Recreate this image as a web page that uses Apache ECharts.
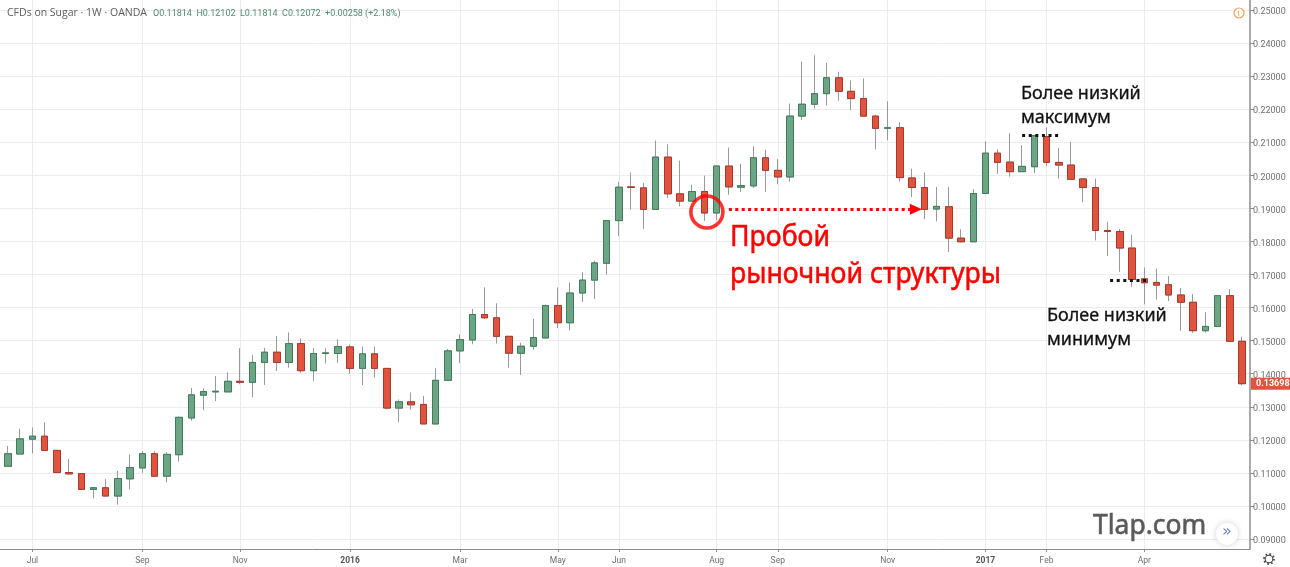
<!DOCTYPE html>
<html>
<head>
<meta charset="utf-8">
<style>html,body{margin:0;padding:0;background:#fff}#chart{width:1290px;height:567px}</style>
<script src="https://cdn.jsdelivr.net/npm/echarts@6/dist/echarts.min.js"></script>
</head>
<body>
<div id="chart"></div>
<script>
// Weekly OANDA sugar CFD, candle by candle.
const opens = [.1120,.1157,.1202,.1211,.1168,.1101,.1098,.1050,.1055,.1030,.1082,.1115,.1158,.1090,.1155,.1266,.1335,.1345,.1345,.1377,.1374,.1434,.1465,.1434,.1491,.1409,.1461,.1461,.1481,.1416,.1460,.1416,.1296,.1315,.1307,.1248,.1380,.1469,.1502,.1579,.1569,.1513,.1462,.1483,.1508,.1606,.1554,.1644,.1683,.1734,.1863,.1965,.1962,.1897,.2055,.1944,.1922,.1951,.1886,.2028,.1964,.1968,.2053,.2015,.1995,.2179,.2215,.2247,.2295,.2254,.2232,.2179,.2142,.2144,.1992,.1963,.1898,.1905,.1810,.1799,.1945,.2067,.2040,.2011,.2026,.2117,.2039,.2031,.1989,.1963,.1833,.1830,.1780,.1687,.1676,.1669,.1638,.1616,.1530,.1543,.1636,.1498];
const closes = [.1158,.1203,.1211,.1168,.1101,.1097,.1050,.1055,.1030,.1083,.1116,.1158,.1090,.1156,.1268,.1336,.1346,.1347,.1377,.1374,.1434,.1465,.1434,.1491,.1409,.1461,.1463,.1482,.1416,.1460,.1416,.1296,.1315,.1306,.1248,.1380,.1469,.1503,.1579,.1569,.1513,.1462,.1483,.1509,.1606,.1554,.1644,.1683,.1735,.1863,.1964,.1963,.1897,.2055,.1944,.1922,.1951,.1886,.2028,.1965,.1969,.2053,.2015,.1995,.2179,.2215,.2247,.2295,.2254,.2232,.2179,.2142,.2144,.1993,.1963,.1897,.1906,.1810,.1799,.1945,.2067,.2039,.2011,.2027,.2120,.2039,.2031,.1988,.1963,.1833,.1830,.1780,.1685,.1675,.1668,.1638,.1616,.1530,.1543,.1636,.1498,.13698];
const lows = [.1120,.1157,.1159,.1168,.1101,.1095,.1050,.1023,.1030,.1004,.1050,.1100,.1090,.1072,.1134,.1258,.1290,.1317,.1345,.1368,.1328,.1366,.1408,.1418,.1403,.1378,.1431,.1432,.1400,.1365,.1388,.1292,.1253,.1291,.1248,.1248,.1378,.1432,.1489,.1566,.1491,.1418,.1396,.1472,.1508,.1538,.1531,.1617,.1626,.1700,.1816,.1896,.1838,.1897,.1931,.1906,.1922,.1862,.1864,.1941,.1950,.1961,.1950,.1973,.1981,.2167,.2202,.2211,.2226,.2197,.2179,.2078,.2106,.1981,.1934,.1867,.1861,.1768,.1796,.1799,.1945,.2004,.1996,.2011,.2007,.2028,.1990,.1986,.1919,.1803,.1756,.1708,.1663,.1610,.1624,.1620,.1530,.1523,.1524,.1543,.1498,.1364];
const highs = [.1181,.1234,.1237,.1253,.1168,.1142,.1098,.1056,.1081,.1106,.1156,.1166,.1166,.1163,.1270,.1357,.1356,.1393,.1404,.1477,.1457,.1478,.1514,.1525,.1506,.1478,.1477,.1504,.1488,.1482,.1482,.1416,.1322,.1343,.1333,.1417,.1475,.1519,.1596,.1661,.1613,.1513,.1494,.1566,.1609,.1661,.1676,.1707,.1742,.1863,.1980,.2008,.1977,.2105,.2094,.2044,.1972,.1999,.2030,.2084,.2035,.2088,.2077,.2049,.2217,.2344,.2363,.2340,.2313,.2287,.2293,.2183,.2224,.2161,.2020,.2008,.1965,.1965,.1837,.1958,.2103,.2079,.2127,.2091,.2122,.2145,.2082,.2101,.1991,.1990,.1859,.1838,.1820,.1721,.1718,.1695,.1659,.1641,.1586,.1636,.1656,.1512];

const monthTickIndexes = [2, 11, 19, 28, 37, 45, 50, 58, 63, 72, 80, 85, 93];
const monthTickLabels = ['Jul', 'Sep', 'Nov', '2016', 'Mar', 'May', 'Jun', 'Aug', 'Sep', 'Nov', '2017', 'Feb', 'Apr'];
const priceTicks = [.09,.10,.11,.12,.13,.14,.15,.16,.17,.18,.19,.20,.21,.22,.23,.24,.25];

const headerTitle = 'CFDs on Sugar · 1W · OANDA';
const headerQuote = 'O0.11814  H0.12102  L0.11814  C0.12072  +0.00258 (+2.18%)';

const UP_FILL = '#6ba583', UP_EDGE = '#3f7c5c';
const DOWN_FILL = '#e0533f', DOWN_EDGE = '#a8392a';
const WICK = '#999999', GRID = '#ececec', AXIS = '#8e8e8e', TICK_TEXT = '#6f6f6f';

const wickRows = opens.map((o, i) => [i, o, closes[i], lows[i], highs[i]]);
const bodyRows = opens.map((o, i) => [i, o, closes[i], Math.min(o, closes[i]), Math.max(o, closes[i])]);
const lastIndex = opens.length - 1;

const chart = echarts.init(document.getElementById('chart'), null, { renderer: 'canvas' });

const option = {
  animation: false,
  backgroundColor: '#ffffff',
  grid: { left: 0, right: 40, top: 0, bottom: 18 },
  xAxis: {
    type: 'value', min: -0.655, max: 101.65, position: 'bottom',
    axisLine: { show: true, onZero: false, lineStyle: { color: AXIS, width: 1 } },
    axisTick: { show: true, length: 3, lineStyle: { color: AXIS }, customValues: monthTickIndexes },
    splitLine: { show: true, lineStyle: { color: GRID }, customValues: monthTickIndexes },
    axisLabel: {
      customValues: monthTickIndexes, margin: 7, fontFamily: 'Roboto', fontSize: 8.5, color: TICK_TEXT,
      formatter: v => {
        const t = monthTickLabels[monthTickIndexes.indexOf(v)];
        return /^\d+$/.test(t) ? '{year|' + t + '}' : t;
      },
      rich: { year: { fontFamily: 'Roboto', fontSize: 8.5, fontWeight: 'bold', color: '#555555' } }
    }
  },
  yAxis: {
    type: 'value', position: 'right', min: 0.08698, max: 0.25302, scale: true,
    axisLine: { show: true, onZero: false, lineStyle: { color: AXIS, width: 1.5 } },
    axisTick: { show: true, length: 4, lineStyle: { color: AXIS }, customValues: priceTicks },
    splitLine: { show: true, lineStyle: { color: GRID }, customValues: priceTicks },
    axisLabel: {
      customValues: priceTicks, margin: 3, verticalAlign: 'top', lineHeight: 4, fontFamily: 'Roboto', fontSize: 9, color: TICK_TEXT,
      formatter: v => v.toFixed(5)
    }
  },
  series: [
    {
      name: 'wicks', type: 'candlestick', barWidth: 7, clip: false,
      encode: { x: 0, y: [1, 2, 3, 4] }, data: wickRows,
      itemStyle: { color: WICK, color0: WICK, borderColor: WICK, borderColor0: WICK, borderWidth: 1 }
    },
    {
      name: 'bodies', type: 'candlestick', barWidth: 7, clip: false,
      encode: { x: 0, y: [1, 2, 3, 4] }, data: bodyRows,
      itemStyle: { color: UP_FILL, color0: DOWN_FILL, borderColor: UP_EDGE, borderColor0: DOWN_EDGE, borderWidth: 1 },
      markLine: {
        silent: true, symbol: 'none', label: { show: false }, animation: false,
        data: [
          [
            { coord: [59.0, 0.1897], symbol: 'none', lineStyle: { color: '#ff0000', width: 3, type: [3, 3.4] } },
            { coord: [74.3, 0.1897], symbol: 'triangle', symbolSize: [11, 12], symbolRotate: -90 }
          ],
          [
            { coord: [83.0, 0.2121], lineStyle: { color: '#111111', width: 3, type: [3, 3.6] } },
            { coord: [86.2, 0.2121] }
          ],
          [
            { coord: [90.2, 0.1683], lineStyle: { color: '#111111', width: 3, type: [3, 3.6] } },
            { coord: [93.2, 0.1683] }
          ]
        ]
      }
    },
    {
      name: 'breakout ring', type: 'scatter', symbol: 'circle', symbolSize: 32,
      data: [[57.2, 0.1889]], z: 5, silent: true,
      itemStyle: { color: 'rgba(0,0,0,0)', borderColor: '#ff0000', borderWidth: 3.6 }
    }
  ]
};

chart.setOption(option);

// The price flag sits on the axis at the last close.
const lastCloseY = chart.convertToPixel({ yAxisIndex: 0 }, closes[lastIndex]);

const note = (text, x, y, size, fill, squeeze, weight) => ({
  type: 'text', x, y, z: 20, silent: true, scaleX: squeeze,
  style: { text, fill, stroke: fill, lineWidth: weight, fontFamily: 'Noto Sans', fontSize: size, textVerticalAlign: 'middle' }
});

chart.setOption({
  graphic: [
    { type: 'text', x: 7, y: 8, z: 20, style: { text: headerTitle, fill: '#5c5c5c', fontFamily: 'Open Sans', fontSize: 10.5 } },
    { type: 'text', x: 153, y: 9, z: 20, style: { text: headerQuote, fill: '#4f8a6c', fontFamily: 'Roboto', fontSize: 9 } },
    note('Пробой', 730, 238, 29, '#ff0000', 0.92, 0.5),
    note('рыночной структуры', 730, 275, 29, '#ff0000', 0.92, 0.5),
    note('Более низкий', 1021, 94, 18, '#111111', 1, 0.3),
    note('максимум', 1021, 118, 18, '#111111', 1, 0.3),
    note('Более низкий', 1047, 316, 18, '#111111', 1, 0.3),
    note('минимум', 1047, 340, 18, '#111111', 1, 0.3),
    note('Tlap.com', 1093, 526, 28, '#5a5a5a', 0.945, 0.6),
    { type: 'rect', z: 21, shape: { x: 1251, y: lastCloseY - 6, width: 39, height: 12 }, style: { fill: DOWN_FILL } },
    { type: 'text', x: 1256, y: lastCloseY, z: 22, style: { text: closes[lastIndex].toFixed(5), fill: '#ffffff', fontFamily: 'Roboto', fontSize: 9, fontWeight: 'bold', textVerticalAlign: 'middle' } },
    // scroll-to-latest button
    { type: 'circle', z: 20, shape: { cx: 1227, cy: 534, r: 11 }, style: { fill: '#ffffff', shadowBlur: 6, shadowColor: 'rgba(0,0,0,0.18)' } },
    { type: 'text', x: 1222, y: 532, z: 21, style: { text: '»', fill: '#6f8db5', fontFamily: 'DejaVu Sans', fontSize: 16, textVerticalAlign: 'middle' } },
    // settings gear
    { type: 'circle', z: 20, shape: { cx: 1269, cy: 559, r: 3.8 }, style: { fill: 'none', stroke: '#444444', lineWidth: 1.1 } },
    { type: 'circle', z: 20, shape: { cx: 1269, cy: 559, r: 5 }, style: { fill: 'none', stroke: '#444444', lineWidth: 1.8, lineDash: [1.6, 2.3] } },
    // data notice badge
    { type: 'circle', z: 20, shape: { cx: 1239, cy: 13, r: 5 }, style: { fill: '#ffffff', stroke: '#f2a25c', lineWidth: 1.2 } },
    { type: 'text', x: 1237.6, y: 13.5, z: 21, style: { text: '!', fill: '#f2a25c', fontFamily: 'Roboto', fontSize: 8, fontWeight: 'bold', textVerticalAlign: 'middle' } }
  ]
});
</script>
</body>
</html>
